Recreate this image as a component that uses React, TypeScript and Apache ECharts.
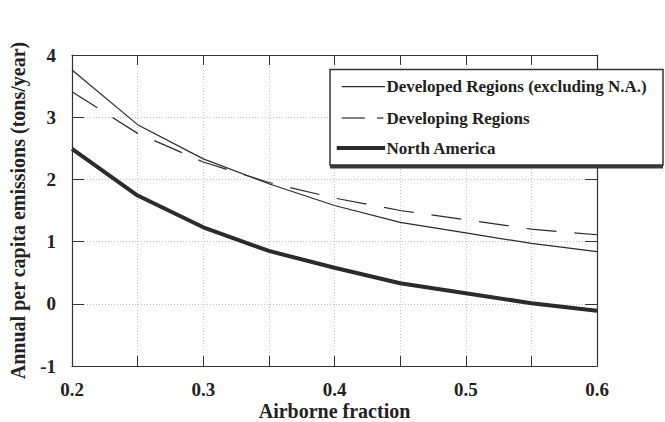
import React, { useEffect, useRef } from "react";
import * as echarts from "echarts";

const xValues = [0.2, 0.25, 0.3, 0.35, 0.4, 0.45, 0.5, 0.55, 0.6];
const developed = [3.76, 2.88, 2.33, 1.93, 1.58, 1.31, 1.14, 0.97, 0.84];
const developing = [3.41, 2.74, 2.28, 1.95, 1.7, 1.5, 1.35, 1.2, 1.11];
const northAmerica = [2.49, 1.74, 1.23, 0.85, 0.58, 0.33, 0.17, 0.01, -0.11];
const seriesNames = [
  "Developed Regions (excluding N.A.)",
  "Developing Regions",
  "North America",
];
const xTitle = "Airborne fraction";
const yTitle = "Annual per capita emissions (tons/year)";

const FONT = "'Liberation Serif', 'Times New Roman', serif";
const INK = "#2b2b2b";

export default function App() {
  const ref = useRef<HTMLDivElement>(null);

  useEffect(() => {
    if (!ref.current) return;
    const chart = echarts.init(ref.current, undefined, { renderer: "svg" });
    const pair = (ys: number[]) => xValues.map((x, i) => [x, ys[i]]);

    const styles = [
      { width: 1.2, type: "solid" as any },
      { width: 1.2, type: [30, 18] as any },
      { width: 4, type: "solid" as any },
    ];
    const datas = [developed, developing, northAmerica];

    const axisLabel = {
      fontFamily: FONT,
      fontWeight: "bold",
      fontSize: 19,
      color: "#222",
    };
    const xCommon = {
      type: "value",
      min: 0.2,
      max: 0.6,
      interval: 0.05,
      axisLine: { show: true, onZero: false, lineStyle: { color: "#333", width: 1.2 } },
      axisTick: { show: true, inside: true, length: 10, lineStyle: { color: "#333" } },
    };
    const yCommon = {
      type: "value",
      min: -1,
      max: 4,
      interval: 1,
      axisLine: { show: true, onZero: false, lineStyle: { color: "#333", width: 1.2 } },
      axisTick: { show: true, inside: true, length: 12, lineStyle: { color: "#333" } },
    };

    // legend geometry
    const lx = 330, ly = 69.5, lw = 333, lh = 95.5;
    const rowY = [86.7, 118, 148];
    const sampleX0 = [341.7, 341.7, 336.7];
    const sampleX1 = 385;
    const textX = 386.5;

    const legendEls: any[] = [
      {
        type: "rect",
        shape: { x: lx, y: ly + 3.5, width: lw, height: lh },
        style: { fill: "#3a3a3a" },
        z: 100,
      },
      {
        type: "rect",
        shape: { x: lx, y: ly, width: lw, height: lh },
        style: { fill: "#fff", stroke: "#333", lineWidth: 1.5 },
        z: 101,
      },
    ];
    seriesNames.forEach((name, i) => {
      if (i === 1) {
        legendEls.push({
          type: "line",
          shape: { x1: sampleX0[i], y1: rowY[i], x2: 365, y2: rowY[i] },
          style: { stroke: INK, lineWidth: 1.2 },
          z: 102,
        });
        legendEls.push({
          type: "line",
          shape: { x1: 377, y1: rowY[i], x2: 383.5, y2: rowY[i] },
          style: { stroke: INK, lineWidth: 1.2 },
          z: 102,
        });
      } else {
        legendEls.push({
          type: "line",
          shape: { x1: sampleX0[i], y1: rowY[i], x2: sampleX1, y2: rowY[i] },
          style: { stroke: INK, lineWidth: styles[i].width },
          z: 102,
        });
      }
      legendEls.push({
        type: "text",
        x: textX,
        y: rowY[i],
        style: {
          text: name,
          fontFamily: FONT,
          fontSize: 17,
          fontWeight: "bold",
          fill: "#222",
          verticalAlign: "middle",
          align: "left",
        },
        z: 102,
      });
    });

    chart.setOption({
      animation: false,
      backgroundColor: "#fff",
      grid: {
        left: 72,
        right: 68,
        top: 55,
        bottom: 56,
        containLabel: false,
        outerBoundsMode: "none",
      },
      xAxis: [
        {
          ...xCommon,
          position: "bottom",
          name: xTitle,
          nameLocation: "middle",
          nameGap: 35,
          nameMoveOverlap: false,
          nameTextStyle: { ...axisLabel, fontSize: 20 },
          axisLabel: {
            ...axisLabel,
            margin: 14,
            formatter: (v: number) => {
              const r = Math.round(v * 100) / 100;
              return Math.abs(r * 10 - Math.round(r * 10)) < 1e-6 ? r.toFixed(1) : "";
            },
          },
          splitLine: {
            show: true,
            lineStyle: { color: "#c4c4c4", type: [1, 2], width: 1 },
          },
        },
        {
          ...xCommon,
          position: "top",
          axisLabel: { show: false },
          splitLine: { show: false },
        },
      ],
      yAxis: [
        {
          ...yCommon,
          position: "left",
          name: yTitle,
          nameLocation: "middle",
          nameGap: 44,
          nameRotate: 90,
          nameMoveOverlap: false,
          nameTextStyle: { ...axisLabel, fontSize: 20 },
          axisLabel: { ...axisLabel, margin: 16 },
          splitLine: {
            show: true,
            lineStyle: { color: "#c4c4c4", type: [1, 2], width: 1 },
          },
        },
        {
          ...yCommon,
          position: "right",
          axisLabel: { show: false },
          splitLine: { show: false },
        },
      ],
      series: seriesNames.map((name, i) => ({
        name,
        type: "line",
        xAxisIndex: 0,
        yAxisIndex: 0,
        data: pair(datas[i]),
        showSymbol: false,
        symbol: "none",
        lineStyle: { color: INK, width: styles[i].width, type: styles[i].type },
        z: 3,
      })),
      graphic: legendEls,
    });

    return () => chart.dispose();
  }, []);

  return (
    <div
      ref={ref}
      style={{ position: "fixed", left: 0, top: 0, width: 665, height: 422 }}
    />
  );
}
